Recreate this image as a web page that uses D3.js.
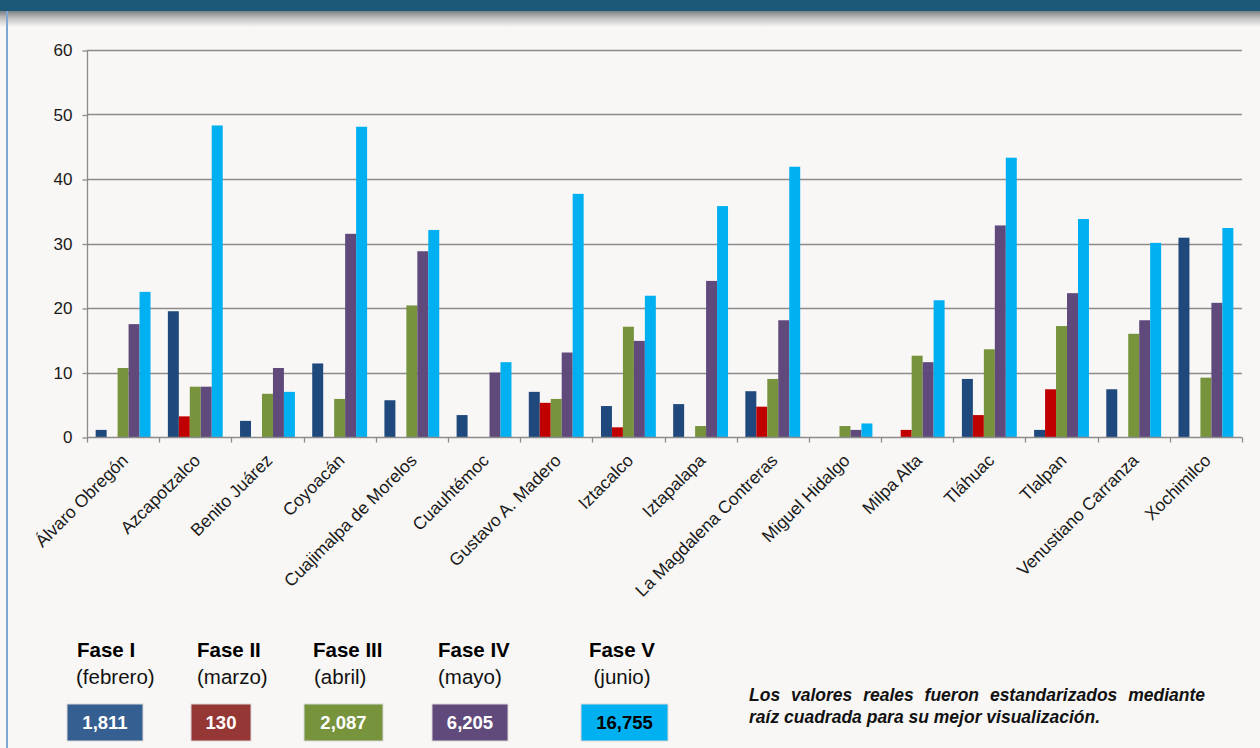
<!DOCTYPE html>
<html>
<head>
<meta charset="utf-8">
<script src="https://cdn.jsdelivr.net/npm/d3@7"></script>
<style>
  html, body { margin: 0; padding: 0; background: #F8F7F5; }
  svg { display: block; }
  text { font-family: "Liberation Sans", Arial, sans-serif; }
</style>
</head>
<body>
<svg id="chart" width="1260" height="748"></svg>
<script>
// ---- data ----
const categories = ["Álvaro Obregón", "Azcapotzalco", "Benito Juárez", "Coyoacán",
  "Cuajimalpa de Morelos", "Cuauhtémoc", "Gustavo A. Madero", "Iztacalco", "Iztapalapa",
  "La Magdalena Contreras", "Miguel Hidalgo", "Milpa Alta", "Tláhuac", "Tlalpan",
  "Venustiano Carranza", "Xochimilco"];
const seriesNames = ["Fase I", "Fase II", "Fase III", "Fase IV", "Fase V"];
const faseI   = [1.1, 19.5, 2.5, 11.4, 5.7, 3.4, 7.0, 4.8, 5.1, 7.1, 0, 0, 9.0, 1.1, 7.4, 30.9];
const faseII  = [0, 3.2, 0, 0, 0, 0, 5.3, 1.5, 0, 4.7, 0, 1.1, 3.4, 7.4, 0, 0];
const faseIII = [10.7, 7.8, 6.7, 5.9, 20.4, 0, 5.9, 17.1, 1.7, 9.0, 1.7, 12.6, 13.6, 17.2, 16.0, 9.2];
const faseIV  = [17.5, 7.8, 10.7, 31.5, 28.8, 10.0, 13.1, 14.9, 24.2, 18.1, 1.1, 11.6, 32.8, 22.3, 18.1, 20.8];
const faseV   = [22.5, 48.3, 7.0, 48.1, 32.1, 11.6, 37.7, 21.9, 35.8, 41.9, 2.1, 21.2, 43.3, 33.8, 30.1, 32.4];
const yTicks = [0, 10, 20, 30, 40, 50, 60];
const seriesColors = ["#1F497D", "#C00000", "#77933C", "#604A7B", "#00B0F0"];

const legendTitles = ["Fase I", "Fase II", "Fase III", "Fase IV", "Fase V"];
const legendMonths = ["(febrero)", "(marzo)", "(abril)", "(mayo)", "(junio)"];
const legendTotals = ["1,811", "130", "2,087", "6,205", "16,755"];
const legendBoxColors = ["#365F91", "#953735", "#77933C", "#604A7B", "#00B0F0"];
const legendTextColors = ["#FFFFFF", "#FFFFFF", "#FFFFFF", "#FFFFFF", "#000000"];
const noteLines = ["Los valores reales fueron estandarizados mediante",
  "raíz cuadrada para su mejor visualización."];

// ---- layout ----
const svg = d3.select("#chart");
const W = 1260, H = 748;
const plot = { left: 87, right: 1242, top: 50, bottom: 437 };

// background / frame
svg.append("rect").attr("width", W).attr("height", H).attr("fill", "#F8F7F5");
const defs = svg.append("defs");
const grad = defs.append("linearGradient").attr("id", "shade")
  .attr("x1", 0).attr("y1", 0).attr("x2", 0).attr("y2", 1);
grad.append("stop").attr("offset", "0%").attr("stop-color", "#6f777b");
grad.append("stop").attr("offset", "45%").attr("stop-color", "#bdbdbd");
grad.append("stop").attr("offset", "100%").attr("stop-color", "#F8F7F5");
svg.append("rect").attr("x", 0).attr("y", 10).attr("width", W).attr("height", 17).attr("fill", "url(#shade)");
svg.append("rect").attr("x", 0).attr("y", 0).attr("width", W).attr("height", 11).attr("fill", "#1C5878");
svg.append("line").attr("x1", 7).attr("x2", 7).attr("y1", 11).attr("y2", H)
  .attr("stroke", "#7FA6D4").attr("stroke-width", 2);

// scales
const x0 = d3.scaleBand().domain(categories).range([plot.left, plot.right]).padding(0);
const bw = x0.bandwidth();
const x1 = d3.scaleBand().domain(seriesNames).range([bw * 0.12, bw * 0.88]).padding(0);
const y = d3.scaleLinear().domain([0, 60]).range([plot.bottom, plot.top]);

// gridlines
const gridG = svg.append("g");
gridG.selectAll("line").data(yTicks.filter(t => t > 0)).join("line")
  .attr("x1", plot.left).attr("x2", plot.right)
  .attr("y1", d => Math.round(y(d)) + 0.5).attr("y2", d => Math.round(y(d)) + 0.5)
  .attr("stroke", "#8C8C8C").attr("stroke-width", 1.3);

// y axis
const yAxis = d3.axisLeft(y).tickValues(yTicks).tickSize(5).tickPadding(10).tickFormat(d3.format("d"));
const yG = svg.append("g").attr("transform", `translate(${plot.left + 0.5},0.5)`).call(yAxis);
yG.select(".domain").attr("stroke", "#8C8C8C").attr("stroke-width", 1.3).attr("d", `M0,${plot.top}V${plot.bottom}`);
yG.selectAll(".tick line").attr("stroke", "#8C8C8C").attr("stroke-width", 1.3);
yG.selectAll(".tick text").attr("font-size", 17).attr("fill", "#1a1a1a")
  .attr("font-family", "'Liberation Sans', Arial, sans-serif");

// bars
const seriesValues = [faseI, faseII, faseIII, faseIV, faseV];
const barsG = svg.append("g");
seriesValues.forEach((vals, si) => {
  barsG.append("g").selectAll("rect").data(vals).join("rect")
    .attr("x", (d, i) => x0(categories[i]) + x1(seriesNames[si]))
    .attr("width", x1.bandwidth())
    .attr("y", d => y(d))
    .attr("height", d => y(0) - y(d))
    .attr("fill", seriesColors[si]);
});

// x axis
const xG = svg.append("g").attr("transform", `translate(0,${Math.round(plot.bottom) + 0.5})`);
xG.append("line").attr("x1", plot.left).attr("x2", plot.right).attr("stroke", "#8C8C8C").attr("stroke-width", 1.3);
const bounds = categories.map(c => x0(c)).concat([plot.right]);
xG.selectAll("line.tk").data(bounds).join("line").attr("class", "tk")
  .attr("x1", d => Math.round(d) + 0.5).attr("x2", d => Math.round(d) + 0.5)
  .attr("y1", 0).attr("y2", 5).attr("stroke", "#8C8C8C").attr("stroke-width", 1.3);
xG.selectAll("text").data(categories).join("text")
  .attr("transform", d => `translate(${x0(d) + bw / 2 + 6},${24}) rotate(-45)`)
  .attr("text-anchor", "end")
  .attr("font-size", 17.5).attr("fill", "#1a1a1a")
  .text(d => d);

// legend
const legX = [
  { t: 77, m: 76, anchor: "start", box: [67, 143] },
  { t: 197, m: 197, anchor: "start", box: [191, 251] },
  { t: 313, m: 314, anchor: "start", box: [304, 383] },
  { t: 438, m: 438, anchor: "start", box: [432, 508] },
  { t: 622, m: 622, anchor: "middle", box: [581, 668] }
];
const legG = svg.append("g");
legendTitles.forEach((t, i) => {
  const L = legX[i];
  legG.append("text").attr("x", L.t).attr("y", 657).attr("text-anchor", L.anchor)
    .attr("font-size", 20.5).attr("font-weight", "bold").attr("fill", "#000").text(t);
  legG.append("text").attr("x", L.m).attr("y", 684).attr("text-anchor", L.anchor)
    .attr("font-size", 20.5).attr("fill", "#111").text(legendMonths[i]);
  legG.append("rect").attr("x", L.box[0]).attr("y", 704).attr("width", L.box[1] - L.box[0]).attr("height", 37)
    .attr("fill", legendBoxColors[i]).attr("stroke", "#d9d9d9").attr("stroke-width", 1);
  legG.append("text").attr("x", (L.box[0] + L.box[1]) / 2).attr("y", 729).attr("text-anchor", "middle")
    .attr("font-size", 18.5).attr("font-weight", "bold").attr("fill", legendTextColors[i]).text(legendTotals[i]);
});

// note (justified first line)
const noteG = svg.append("g");
const l1 = noteG.append("text").attr("x", 749).attr("y", 701)
  .attr("font-size", 17.5).attr("font-weight", "bold").attr("font-style", "italic").attr("fill", "#111")
  .text(noteLines[0]);
const target = 1205 - 749;
const len = l1.node().getComputedTextLength();
const spaces = (noteLines[0].match(/ /g) || []).length;
if (len < target && spaces) l1.attr("word-spacing", (target - len) / spaces);
else if (len > target) l1.attr("textLength", target).attr("lengthAdjust", "spacingAndGlyphs");
noteG.append("text").attr("x", 749).attr("y", 723)
  .attr("font-size", 17.5).attr("font-weight", "bold").attr("font-style", "italic").attr("fill", "#111")
  .text(noteLines[1]);
</script>
</body>
</html>
